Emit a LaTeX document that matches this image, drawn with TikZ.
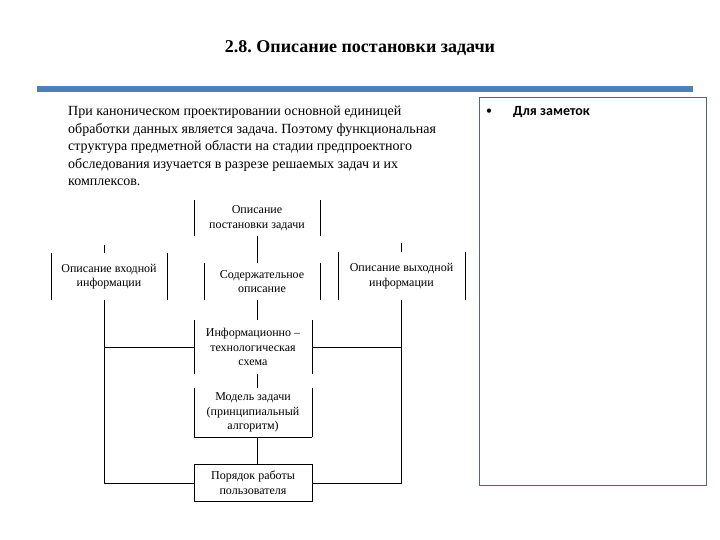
\documentclass[tikz,border=0pt]{standalone}
\usepackage{fontspec}
\setmainfont{Liberation Serif}
\newfontfamily\notefont{Carlito}
\usepackage{tikz}
\usetikzlibrary{positioning,calc}
\frenchspacing

\definecolor{barblue}{HTML}{4F7FB7}
\definecolor{noteline}{HTML}{4E6A74}

\tikzset{
	blk/.style={rectangle,inner sep=0pt,align=center,font=\fontsize{12}{14.5}\selectfont},
	link/.style={line width=0.6pt}
}

\begin{document}
\begin{tikzpicture}[x=1pt,y=-1pt]
	\useasboundingbox (0,0) rectangle (720,540);
	% title and bar
	\node (title) at (360,48) {\fontsize{18}{20}\selectfont\bfseries 2.8. Описание постановки задачи};
	\fill[barblue] (37,86) rectangle (693,92);
	% text
	\node[anchor=north west,align=left,inner sep=0pt,font=\fontsize{14}{17.5}\selectfont] (txt) at (68,106) {При каноническом проектировании основной единицей\\
	обработки данных является задача. Поэтому функциональная\\
	структура предметной области на стадии предпроектного\\
	обследования изучается в разрезе решаемых задач и  их\\
	комплексов.};
	% notes
	\draw[noteline,line width=0.8pt] (479,97) rectangle (706,485);
	\node (bul) at (489,112) {\notefont\fontsize{12}{14}\selectfont •};
	\node[anchor=west,inner sep=0pt] (note) at (513,112) {\notefont\fontsize{14}{16}\selectfont\bfseries Для заметок};
	% blocks
	\node[blk,minimum width=126,minimum height=36] (top) at (257,218) {Описание\\постановки задачи};
	\node[blk,minimum width=116,minimum height=47] (inL) at (109,276.5) {Описание входной\\информации};
	\node[blk,minimum width=116,minimum height=37] (mid) at (262,281.5) {Содержательное\\описание};
	\node[blk,minimum width=127,minimum height=48] (outR) at (401.5,276) {Описание выходной\\информации};
	\node[blk,minimum width=118,minimum height=54] (info) at (253,347) {Информационно –\\технологическая\\схема};
	\node[blk,minimum width=118,minimum height=49] (model) at (253,412.5) {Модель задачи\\(принципиальный\\алгоритм)};
	\node[blk,draw,line width=0.6pt,minimum width=118,minimum height=37] (order) at (253,483) {Порядок работы\\пользователя};
	\foreach \n in {top,inL,mid,outR,info,model}
		\draw[link] (\n.north west) -- (\n.south west) (\n.north east) -- (\n.south east);
	\draw[link] (model.south west) -- (model.south east);
	% links
	\coordinate (inLs) at ([xshift=-5pt]inL.south);
	\coordinate (inLn) at ([xshift=-5pt]inL.north);
	\draw[link] (top.south) -- (top.south |- mid.north);
	\draw[link] (top.south |- mid.south) -- (top.south |- info.north);
	\draw[link] (top.south |- info.south) -- (top.south |- model.north);
	\draw[link] (top.south |- model.south) -- (top.south |- order.north);
	\draw[link] (inLn) -- ++(0,-8);
	\draw[link] (outR.north) -- ++(0,-9);
	\draw[link] (inLs) |- (order.west);
	\draw[link] (inLs |- info.west) -- (info.west);
	\draw[link] (outR.south) |- (order.east);
	\draw[link] (outR.south |- info.east) -- (info.east);
\end{tikzpicture}
\end{document}
